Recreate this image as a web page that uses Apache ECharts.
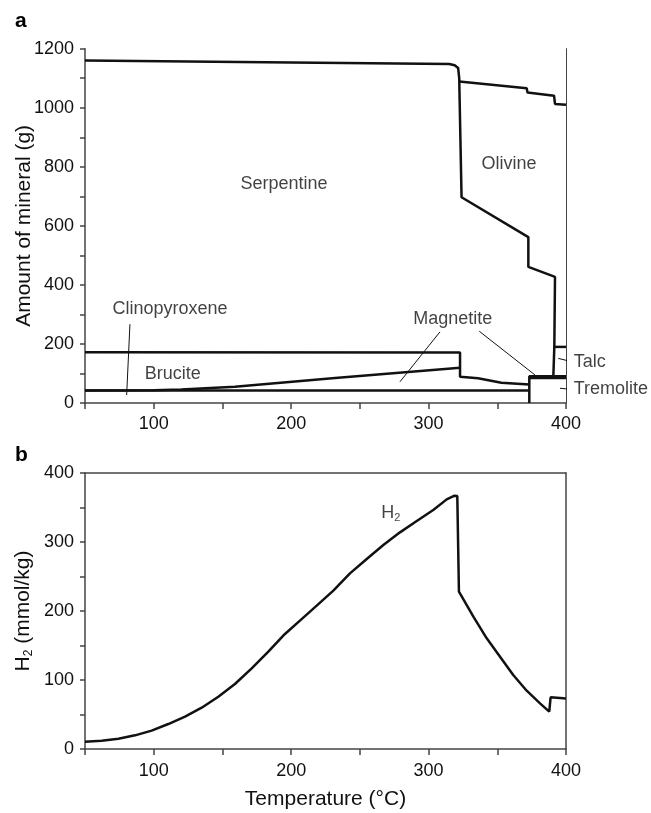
<!DOCTYPE html>
<html><head><meta charset="utf-8">
<script src="https://cdn.jsdelivr.net/npm/echarts@6/dist/echarts.min.js"></script>
<style>html,body{margin:0;padding:0;background:#fff}#c{width:651px;height:813px}</style>
</head><body><div id="c"></div>
<script>
// ---- Panel a: mineral boundaries (temperature °C, amount g) ----
const serpentineOutline = [[50,1160],[200,1153],[315,1148],[319,1144],[321.5,1135],[322.3,1100],[324,697],[372.6,562],[372.6,461],[392,427],[391.5,190],[390.8,91]];
const olivineTop = [[322.3,1089],[371.4,1066],[372,1052],[391.3,1041],[392,1013],[400,1010]];
const clinopyroxeneTop = [[50,172],[322.9,171],[322.9,89],[336,83.5],[353,68.6],[373.3,63]];
const bruciteTop = [[50,42],[100,43],[120,46],[159,55],[232,85],[322.9,119]];
const bruciteBottom = [[50,42],[373.3,42]];
const tremoliteEdge = [[373.3,0],[373.3,91],[400,91]];
const magnetiteBand = [[373.3,85],[400,85]];
const talcTop = [[391.3,190],[400,190]];
// leader lines (data coords)
const leaderClino = [[82.7,267],[80.3,27]];
const leaderMagLeft = [[308.3,241],[279.2,72]];
const leaderMagRight = [[336.9,243],[377.4,95]];
const leaderTalc = [[394.4,151],[404.1,140]];
const leaderTrem = [[395.6,50],[404.1,46]];
// labels
const labelNamesA = ['Serpentine','Olivine','Clinopyroxene','Brucite','Magnetite'];
const labelPosA = [[194.8,740],[358.5,811],[111.8,318],[113.8,98],[317.6,284]];
const sideLabelNames = ['Talc','Tremolite'];
const sideLabelPos = [[404.5,140],[404.5,46]];

// ---- Panel b: H2 (mmol/kg) ----
const h2 = [[50,10.6],[62.1,12.1],[74.3,15],[86.4,19.8],[98.5,26.6],[110.6,36.2],[122.8,46.9],[134.9,59.9],[147,75.8],[159.1,94.2],[171.3,116.9],[183.4,141],[195.5,166.7],[206.4,186],[218.6,207.7],[230.7,229.5],[242.8,254.6],[255,275.4],[267.1,295.7],[279.2,314],[291.4,330.4],[303.4,346.4],[313.2,361.8],[318.5,367],[320.9,366.7],[322.1,228],[332.6,191.8],[342.3,160.4],[352,133.8],[361.6,107.2],[371.4,84.5],[381.1,66.2],[387.8,54.1],[388.8,74.9],[398,73.5],[400,73]];
const h2LabelPos = [[272.6,342]];

const FONT = 'Liberation Sans';
const AX = '#444';
const TXT = '#111';
const chart = echarts.init(document.getElementById('c'), null, {renderer:'canvas'});

function boundary(data, w){
  return {type:'line', xAxisIndex:0, yAxisIndex:0, data:data, symbol:'none', clip:false,
    lineStyle:{color:'#111', width:w||2.5}, z:3, animation:false};
}
function leader(data){
  return {type:'line', xAxisIndex:0, yAxisIndex:0, data:data, symbol:'none', clip:false,
    lineStyle:{color:'#111', width:1}, z:3, animation:false};
}
const txt = {fontFamily:FONT, fontSize:18, color:TXT};
const nameTxt = {fontFamily:FONT, fontSize:21, color:TXT};

const option = {
  animation:false,
  textStyle:{fontFamily:FONT},
  title:[
    {text:'a', left:10, top:6, textStyle:{fontFamily:FONT, fontSize:21, fontWeight:'bold', color:'#000'}},
    {text:'b', left:10, top:440, textStyle:{fontFamily:FONT, fontSize:21, fontWeight:'bold', color:'#000'}}
  ],
  grid:[
    {left:85, top:48.7, width:481, height:354.3, outerBoundsMode:'none', containLabel:false},
    {left:85, top:473, width:481, height:276, outerBoundsMode:'none', containLabel:false}
  ],
  xAxis:[
    {type:'value', gridIndex:0, min:50, max:400, interval:50,
      axisLine:{lineStyle:{color:AX, width:1.5}}, axisTick:{length:6, lineStyle:{color:AX, width:1.5}},
      splitLine:{show:false},
      axisLabel:{...txt, margin:12, formatter:v=> v%100===0 ? String(v) : ''}},
    {type:'value', gridIndex:1, min:50, max:400, interval:50,
      name:'Temperature (°C)', nameLocation:'middle', nameGap:40, nameMoveOverlap:false,
      nameTextStyle:nameTxt,
      axisLine:{lineStyle:{color:AX, width:1.5}}, axisTick:{length:6, lineStyle:{color:AX, width:1.5}},
      splitLine:{show:false},
      axisLabel:{...txt, margin:13, formatter:v=> v%100===0 ? String(v) : ''}},
    {type:'value', gridIndex:1, min:50, max:400, position:'top',
      axisLine:{show:true, onZero:false, lineStyle:{color:AX, width:1.5}}, axisTick:{show:false},
      axisLabel:{show:false}, splitLine:{show:false}}
  ],
  yAxis:[
    {type:'value', gridIndex:0, min:0, max:1200, interval:100,
      name:'Amount of mineral (g)', nameLocation:'middle', nameGap:50, nameMoveOverlap:false,
      nameTextStyle:nameTxt,
      axisLine:{show:true, lineStyle:{color:AX, width:1.5}}, axisTick:{show:true, length:5, lineStyle:{color:AX, width:1.5}},
      splitLine:{show:false},
      axisLabel:{...txt, margin:11, formatter:v=> v%200===0 ? String(v) : ''}},
    {type:'value', gridIndex:0, min:0, max:1200, position:'right',
      axisLine:{show:true, onZero:false, lineStyle:{color:AX, width:1}}, axisTick:{show:false},
      axisLabel:{show:false}, splitLine:{show:false}},
    {type:'value', gridIndex:1, min:0, max:400, interval:50,
      name:'{a|H}{s|2}{a| (mmol/kg)}', nameLocation:'middle', nameGap:50, nameMoveOverlap:false,
      nameTextStyle:{...nameTxt, rich:{a:{fontFamily:FONT, fontSize:21, color:TXT}, s:{fontFamily:FONT, fontSize:12, color:TXT, padding:[11,0,0,0]}}},
      axisLine:{show:true, lineStyle:{color:AX, width:1.5}}, axisTick:{show:true, length:5, lineStyle:{color:AX, width:1.5}},
      splitLine:{show:false},
      axisLabel:{...txt, margin:11, formatter:v=> v%100===0 ? String(v) : ''}},
    {type:'value', gridIndex:1, min:0, max:400, position:'right',
      axisLine:{show:true, onZero:false, lineStyle:{color:AX, width:1.5}}, axisTick:{show:false},
      axisLabel:{show:false}, splitLine:{show:false}}
  ],
  series:[
    boundary(serpentineOutline),
    boundary(olivineTop),
    boundary(clinopyroxeneTop),
    boundary(bruciteTop),
    boundary(bruciteBottom),
    boundary(tremoliteEdge),
    boundary(magnetiteBand),
    boundary(talcTop),
    leader(leaderClino), leader(leaderMagLeft), leader(leaderMagRight), leader(leaderTalc), leader(leaderTrem),
    {type:'scatter', xAxisIndex:0, yAxisIndex:0, clip:false, symbolSize:1, itemStyle:{color:'rgba(0,0,0,0)'},
      data: labelNamesA.map((n,i)=>({name:n, value:labelPosA[i]})),
      label:{show:true, position:[0.5,0.5], align:'center', verticalAlign:'middle', formatter:p=>p.name, ...txt}},
    {type:'scatter', xAxisIndex:0, yAxisIndex:0, clip:false, symbolSize:1, itemStyle:{color:'rgba(0,0,0,0)'},
      data: sideLabelNames.map((n,i)=>({name:n, value:sideLabelPos[i]})),
      label:{show:true, position:[2,0.5], align:'left', verticalAlign:'middle', formatter:p=>p.name, ...txt}},
    {type:'line', xAxisIndex:1, yAxisIndex:2, data:h2, symbol:'none', clip:false,
      lineStyle:{color:'#111', width:2.5}},
    {type:'scatter', xAxisIndex:1, yAxisIndex:2, clip:false, symbolSize:1, itemStyle:{color:'rgba(0,0,0,0)'},
      data: h2LabelPos.map(p=>({name:'H2', value:p})),
      label:{show:true, position:[0.5,0.5], align:'center', verticalAlign:'middle', formatter:'{a|H}{s|2}',
        rich:{a:{fontFamily:FONT, fontSize:18, color:TXT}, s:{fontFamily:FONT, fontSize:11, color:TXT, padding:[9,0,0,0]}}}}
  ]
};
chart.setOption(option);
</script></body></html>
